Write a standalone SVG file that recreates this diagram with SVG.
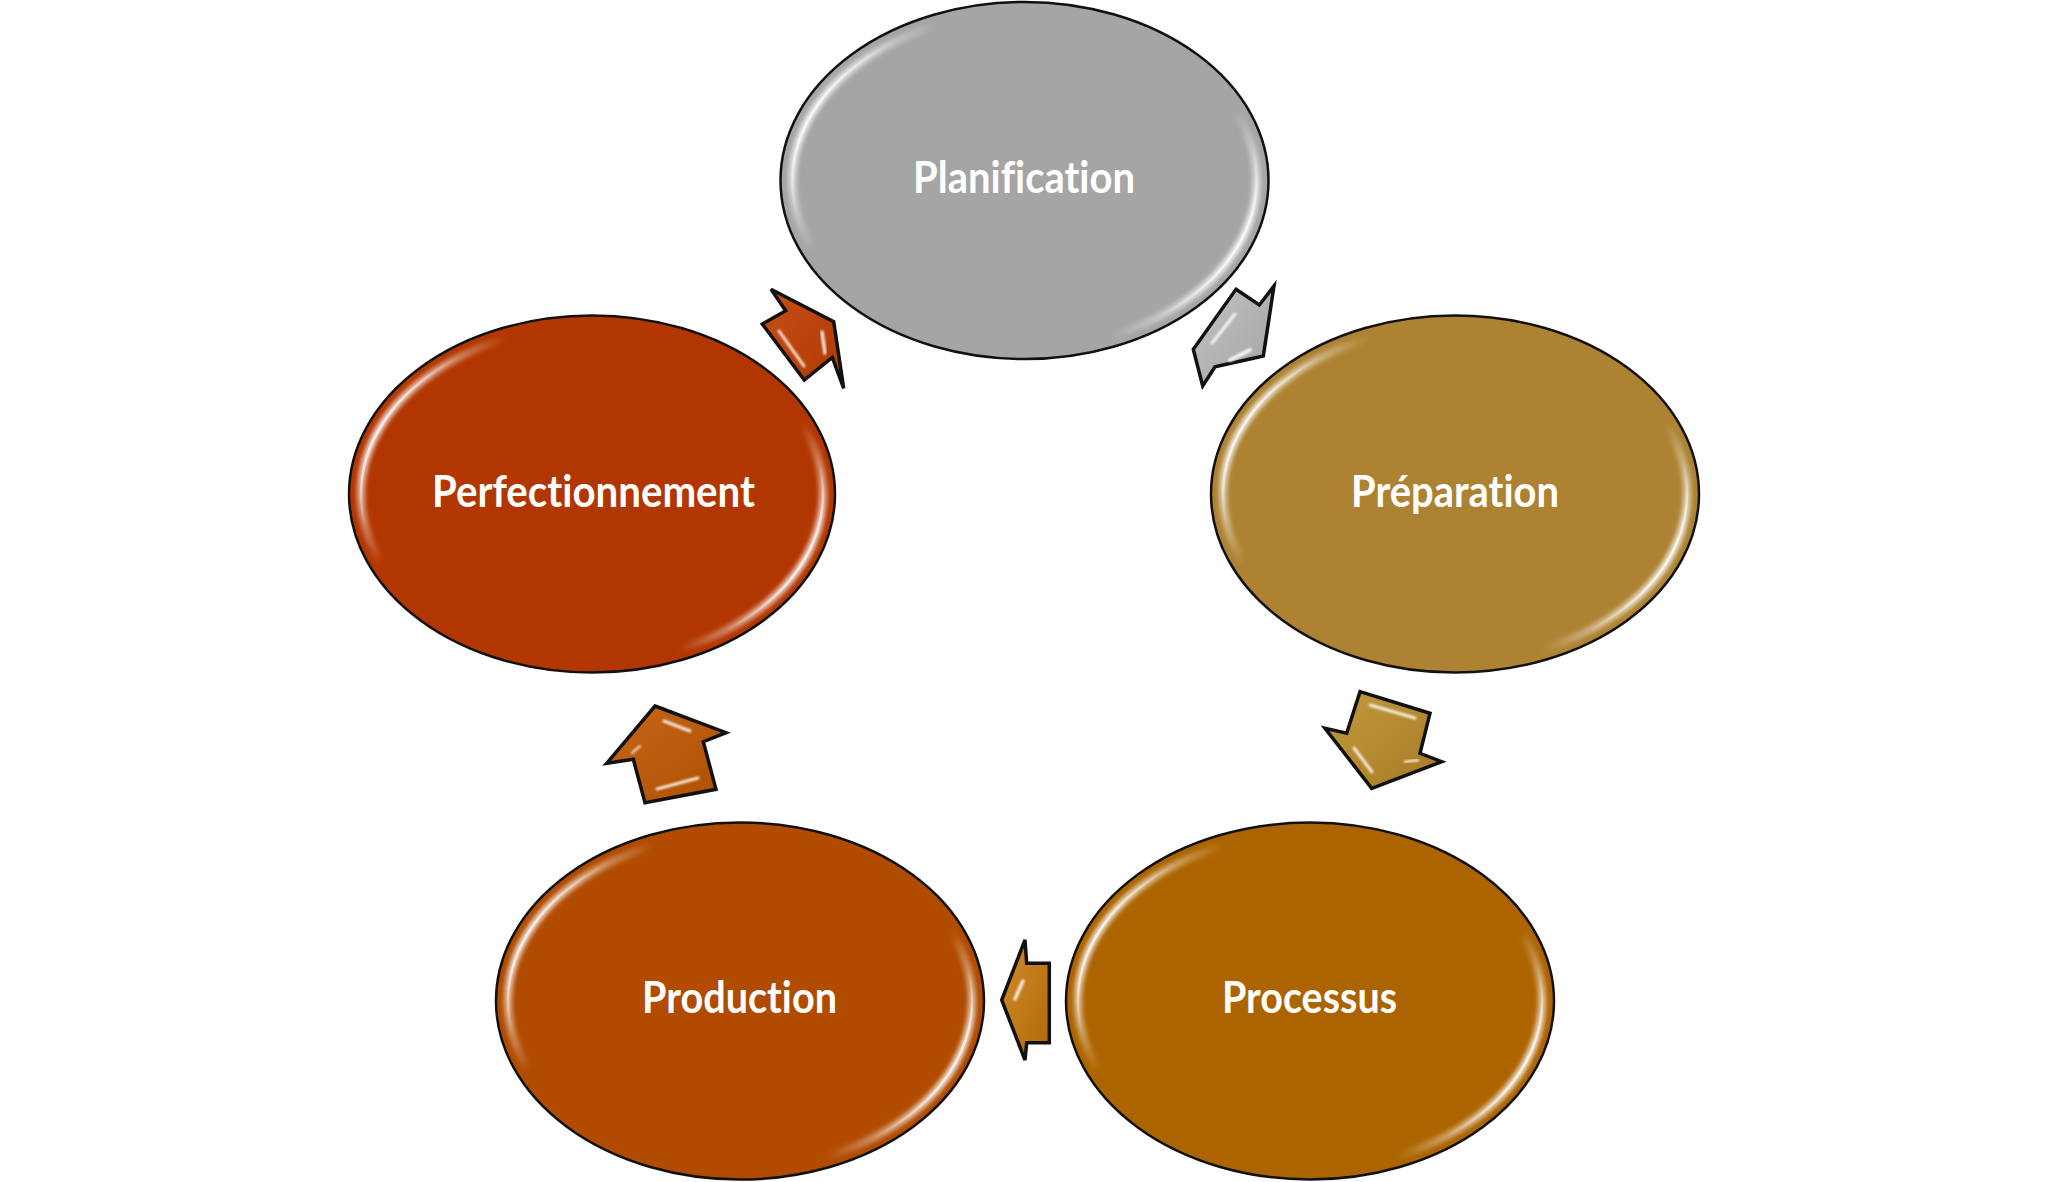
<svg xmlns="http://www.w3.org/2000/svg" width="2048" height="1182" viewBox="0 0 2048 1182">
<style>
.node-shape{stroke:#111;stroke-width:2.5}
.rim{fill:none;stroke:url(#hl);stroke-width:8;filter:url(#blur2)}
.rim2{fill:none;stroke:url(#hl2);stroke-width:2.5}
.lbl{font-family:"Lato","Open Sans","DejaVu Sans",sans-serif;font-weight:700;font-size:43px;fill:#fff;text-anchor:middle;font-variant-ligatures:none;font-feature-settings:"liga" 0,"clig" 0}
.arrow{stroke:#111;stroke-width:3.5;stroke-linejoin:miter}
.shine{fill:none;stroke:#fff;stroke-linecap:round;opacity:0.85;filter:url(#blur1)}
</style>
<defs>
<filter id="blur2" x="-10%" y="-10%" width="120%" height="120%"><feGaussianBlur stdDeviation="2.2"/></filter>
<filter id="blur1" x="-50%" y="-50%" width="200%" height="200%"><feGaussianBlur stdDeviation="1.2"/></filter>
<linearGradient id="hl" x1="0" y1="0.3" x2="1" y2="0.7">
<stop offset="0" stop-color="#fff" stop-opacity="0.95"/>
<stop offset="0.18" stop-color="#fff" stop-opacity="0"/>
<stop offset="0.82" stop-color="#fff" stop-opacity="0"/>
<stop offset="1" stop-color="#fff" stop-opacity="0.95"/>
</linearGradient>
<linearGradient id="hl2" x1="0" y1="0.3" x2="1" y2="0.7">
<stop offset="0" stop-color="#fff" stop-opacity="1"/>
<stop offset="0.11" stop-color="#fff" stop-opacity="0"/>
<stop offset="0.89" stop-color="#fff" stop-opacity="0"/>
<stop offset="1" stop-color="#fff" stop-opacity="1"/>
</linearGradient>
<linearGradient id="gA" x1="0" y1="0" x2="1" y2="1"><stop offset="0" stop-color="#c4c4c4"/><stop offset="1" stop-color="#a2a2a2"/></linearGradient>
<linearGradient id="gB" x1="0" y1="0" x2="1" y2="1"><stop offset="0" stop-color="#c29a3e"/><stop offset="1" stop-color="#a87a22"/></linearGradient>
<linearGradient id="gC" x1="0" y1="0" x2="1" y2="1"><stop offset="0" stop-color="#d08a2a"/><stop offset="1" stop-color="#b06a08"/></linearGradient>
<linearGradient id="gD" x1="0" y1="0" x2="1" y2="1"><stop offset="0" stop-color="#c8661a"/><stop offset="1" stop-color="#ad5000"/></linearGradient>
<linearGradient id="gE" x1="0" y1="0" x2="1" y2="1"><stop offset="0" stop-color="#c84e18"/><stop offset="1" stop-color="#ad3a00"/></linearGradient>
</defs>
<rect width="2048" height="1182" fill="#fff"/>

<g id="connectors">
<g id="arrow-planif-prep">
<polygon class="arrow" fill="url(#gA)" points="1236,289.3 1259.3,305 1274,286 1263.3,356 1215,366.7 1202.7,386 1193.3,349.3"/>
<line class="shine" stroke-width="3" x1="1212" y1="343" x2="1235" y2="314"/>
<line class="shine" stroke-width="4" x1="1230" y1="360" x2="1250" y2="350"/>
</g>
<g id="arrow-prep-proc">
<polygon class="arrow" fill="url(#gB)" points="1360,691.7 1430,713.3 1420,753.3 1441.7,761.7 1371.7,788.3 1325,728.3 1346.7,733.3"/>
<line class="shine" stroke-width="3" x1="1370" y1="705" x2="1415" y2="718"/>
<line class="shine" stroke-width="3" x1="1354" y1="748" x2="1372" y2="772"/>
<line class="shine" stroke-width="2.5" x1="1405" y1="762" x2="1418" y2="760"/>
</g>
<g id="arrow-proc-prod">
<polygon class="arrow" fill="url(#gC)" points="1025,940 1026.7,963.3 1049.3,963.3 1049.3,1042.7 1026.7,1042.7 1025,1060 1001.7,1000"/>
<line class="shine" stroke-width="3.5" x1="1023" y1="981" x2="1015" y2="999"/>
<line class="shine" stroke-width="2" x1="1038" y1="978" x2="1038" y2="1028"/>
</g>
<g id="arrow-prod-perf">
<polygon class="arrow" fill="url(#gD)" points="655,706 726,732.7 703.3,741.7 716,789.3 645,802.7 633.3,759.3 606.7,763.3"/>
<line class="shine" stroke-width="3" x1="664" y1="721" x2="690" y2="731"/>
<line class="shine" stroke-width="3" x1="657" y1="789" x2="698" y2="778"/>
<line class="shine" stroke-width="2" x1="632" y1="753" x2="640" y2="746"/>
</g>
<g id="arrow-perf-planif">
<polygon class="arrow" fill="url(#gE)" points="771,289.3 785.7,310.7 762.3,324 804.3,380 832.3,357.3 843.7,388.3 833.7,321.7"/>
<line class="shine" stroke-width="3" x1="779" y1="331" x2="804" y2="366"/>
<line class="shine" stroke-width="3.5" x1="822" y1="332" x2="825" y2="353"/>
</g>
</g>

<g id="node-planification">
<ellipse class="node-shape" cx="1024.5" cy="180.5" rx="244" ry="178.5" fill="#a5a5a5"/>
<ellipse class="rim" cx="1024.5" cy="180.5" rx="232" ry="167"/>
<ellipse class="rim2" cx="1024.5" cy="180.5" rx="232" ry="167"/>
<text class="lbl" x="1024" y="193" textLength="222" lengthAdjust="spacingAndGlyphs">Planification</text>
</g>

<g id="node-preparation">
<ellipse class="node-shape" cx="1455" cy="494" rx="244" ry="178.5" fill="#ad8232"/>
<ellipse class="rim" cx="1455" cy="494" rx="232" ry="167"/>
<ellipse class="rim2" cx="1455" cy="494" rx="232" ry="167"/>
<text class="lbl" x="1455" y="507" textLength="208" lengthAdjust="spacingAndGlyphs">Préparation</text>
</g>

<g id="node-processus">
<ellipse class="node-shape" cx="1310" cy="1001" rx="244" ry="178.5" fill="#ac6400"/>
<ellipse class="rim" cx="1310" cy="1001" rx="232" ry="167"/>
<ellipse class="rim2" cx="1310" cy="1001" rx="232" ry="167"/>
<text class="lbl" x="1309.5" y="1013" textLength="175" lengthAdjust="spacingAndGlyphs">Processus</text>
</g>

<g id="node-production">
<ellipse class="node-shape" cx="740" cy="1001" rx="244" ry="178.5" fill="#b14b00"/>
<ellipse class="rim" cx="740" cy="1001" rx="232" ry="167"/>
<ellipse class="rim2" cx="740" cy="1001" rx="232" ry="167"/>
<text class="lbl" x="739.5" y="1013" textLength="195" lengthAdjust="spacingAndGlyphs">Production</text>
</g>

<g id="node-perfectionnement">
<ellipse class="node-shape" cx="592" cy="494" rx="243" ry="178.5" fill="#b23600"/>
<ellipse class="rim" cx="592" cy="494" rx="231" ry="167"/>
<ellipse class="rim2" cx="592" cy="494" rx="231" ry="167"/>
<text class="lbl" x="593.5" y="507" textLength="323" lengthAdjust="spacingAndGlyphs">Perfectionnement</text>
</g>
</svg>
